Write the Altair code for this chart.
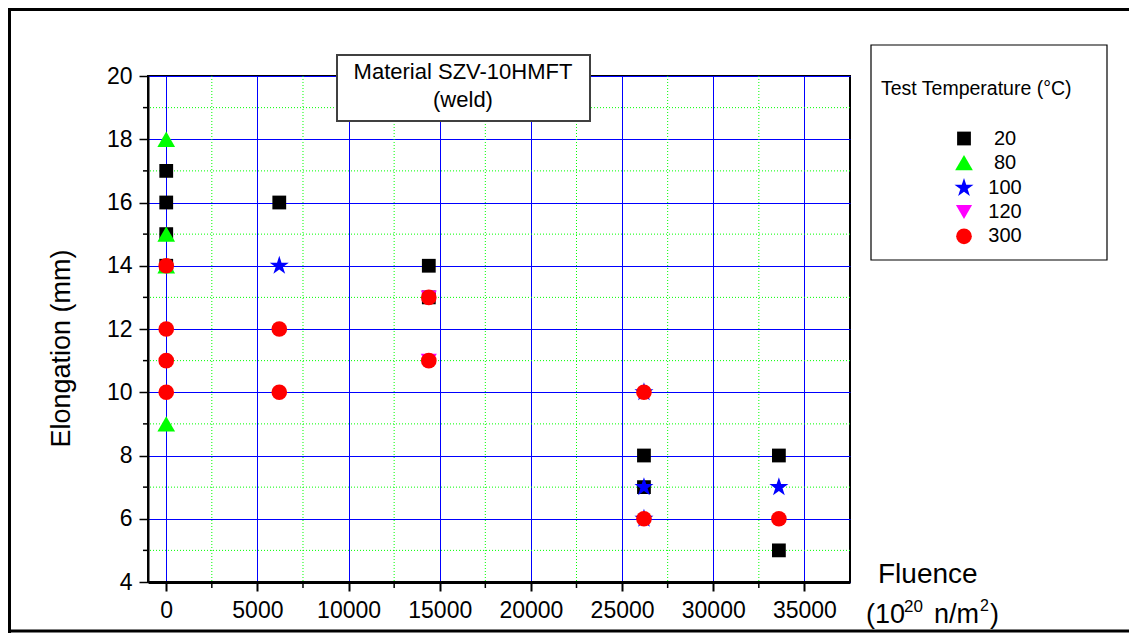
import altair as alt
import pandas as pd

# ---- data ----
temps = ["20", "80", "100", "120", "300"]
fluence_20 = [0, 0, 0, 0, 6200, 14400, 14400, 26200, 26200, 33600, 33600]
elong_20 = [17, 16, 15, 14, 16, 14, 13, 8, 7, 8, 5]
fluence_80 = [0, 0, 0, 0]
elong_80 = [18, 15, 14, 9]
fluence_100 = [6200, 26200, 26200, 26200, 33600]
elong_100 = [14, 10, 7, 6, 7]
fluence_120 = [14400, 14400]
elong_120 = [13, 11]
fluence_300 = [0, 0, 0, 0, 6200, 6200, 14400, 14400, 26200, 26200, 33600]
elong_300 = [14, 12, 11, 10, 12, 10, 13, 11, 10, 6, 6]

x_major = [0, 5000, 10000, 15000, 20000, 25000, 30000, 35000]
x_minor = [2500, 7500, 12500, 17500, 22500, 27500, 32500]
y_major = [4, 6, 8, 10, 12, 14, 16, 18, 20]
y_minor = [5, 7, 9, 11, 13, 15, 17, 19]

series = [
    ("20", fluence_20, elong_20),
    ("80", fluence_80, elong_80),
    ("100", fluence_100, elong_100),
    ("120", fluence_120, elong_120),
    ("300", fluence_300, elong_300),
]
rows = []
for t, fx, fy in series:
    for a, b in zip(fx, fy):
        rows.append({"fluence": a, "elongation": b, "temp": t})
df = pd.DataFrame(rows)
df_xminor = pd.DataFrame({"fluence": x_minor})
df_yminor = pd.DataFrame({"elongation": y_minor})
dummy = pd.DataFrame({"k": [0]})

FONT = "Liberation Sans"
STAR = ("M0,-1L0.2245,-0.309L0.951,-0.309L0.363,0.118L0.588,0.809L0,0.382"
        "L-0.588,0.809L-0.363,0.118L-0.951,-0.309L-0.2245,-0.309Z")

xs = alt.Scale(domain=[-1000, 37500], nice=False, zero=False)
ys = alt.Scale(domain=[4, 20], nice=False, zero=False)

xaxis = alt.Axis(values=x_major, format="d", title=None, grid=True,
                 gridColor="#0000ff", gridWidth=1, tickSize=9, tickWidth=2,
                 tickColor="black", domainColor="black", domainWidth=3,
                 labelFontSize=23, labelColor="black", labelPadding=8,
                 labelFlush=False, labelFont=FONT)
yaxis = alt.Axis(values=y_major, format="d", title="Elongation (mm)", grid=True,
                 gridColor="#0000ff", gridWidth=1, tickSize=9, tickWidth=1.5,
                 tickColor="black", domainColor="black", domainWidth=2,
                 labelFontSize=23, labelColor="black", labelPadding=7,
                 labelFont=FONT, titleFont=FONT, titleFontSize=27,
                 titleFontWeight="normal", titleColor="black",
                 titleX=-73, titleY=272)

X = alt.X("fluence:Q", scale=xs, axis=xaxis)
Y = alt.Y("elongation:Q", scale=ys, axis=yaxis)

legend = alt.Legend(
    title=["", "Test Temperature (°C)"],
    orient="none", legendX=723, legendY=-31, padding=10,
    titleFont=FONT, titleFontSize=19.5, titleFontWeight="normal",
    titleLineHeight=25, titlePadding=29, titleColor="black", titleLimit=400,
    labelFont=FONT, labelFontSize=20, labelColor="black",
    labelAlign="center", labelOffset=30, symbolOffset=72, rowPadding=4.2,
)

minor_x_grid = alt.Chart(df_xminor).mark_rule(
    color="#00ff00", strokeDash=[1, 2], strokeWidth=1).encode(x=X)
minor_y_grid = alt.Chart(df_yminor).mark_rule(
    color="#00ff00", strokeDash=[1, 2], strokeWidth=1).encode(y=Y)
minor_x_ticks = alt.Chart(df_xminor).mark_rule(
    color="black", strokeWidth=1.5).encode(x=X, y=alt.value(506), y2=alt.value(512))
minor_y_ticks = alt.Chart(df_yminor).mark_rule(
    color="black", strokeWidth=1.5).encode(y=Y, x=alt.value(-5), x2=alt.value(0))

points = alt.Chart(df).mark_point(filled=True, opacity=1, strokeWidth=0).encode(
    x=X, y=Y,
    color=alt.Color("temp:N", sort=temps,
                    scale=alt.Scale(domain=temps,
                                    range=["#000000", "#00ff00", "#0000ff", "#ff00ff", "#ff0000"]),
                    legend=legend),
    shape=alt.Shape("temp:N", sort=temps,
                    scale=alt.Scale(domain=temps,
                                    range=["square", "triangle-up", STAR, "triangle-down", "circle"]),
                    legend=legend),
    size=alt.Size("temp:N", sort=temps,
                  scale=alt.Scale(type="ordinal", domain=temps,
                                  range=[190, 313, 400, 260, 245]),
                  legend=legend),
)

# legend frame
legend_box = alt.Chart(dummy).mark_rect(fill="white", stroke="black", strokeWidth=1.2).encode(
    x=alt.value(723), x2=alt.value(959), y=alt.value(-31), y2=alt.value(184))

# annotation box
box = alt.Chart(dummy).mark_rect(fill="white", stroke="#404040", strokeWidth=2).encode(
    x=alt.value(189), x2=alt.value(442), y=alt.value(-21), y2=alt.value(45))
t1 = alt.Chart(dummy).mark_text(text="Material SZV-10HMFT", font=FONT, fontSize=22,
                                align="center", baseline="alphabetic", color="black").encode(
    x=alt.value(315), y=alt.value(3))
t2 = alt.Chart(dummy).mark_text(text="(weld)", font=FONT, fontSize=22,
                                align="center", baseline="alphabetic", color="black").encode(
    x=alt.value(315), y=alt.value(31))

# x axis title pieces
def txt(s, x, y, size):
    return alt.Chart(dummy).mark_text(text=s, font=FONT, fontSize=size, align="left",
                                      baseline="alphabetic", color="black").encode(
        x=alt.value(x), y=alt.value(y))

xt = [
    txt("Fluence", 730, 507, 28),
    txt("(10", 718, 547, 27),
    txt("20", 756, 536, 17),
    txt("n/m", 786, 547, 27),
    txt("2", 832, 535, 16),
    txt(")", 842, 547, 27),
]

# outer frame
frame_top = alt.Chart(dummy).mark_rule(color="black", strokeWidth=3).encode(
    x=alt.value(-138.5), x2=alt.value(981), y=alt.value(-66.5))
frame_left = alt.Chart(dummy).mark_rule(color="black", strokeWidth=3).encode(
    x=alt.value(-138.5), y=alt.value(-68), y2=alt.value(558))
frame_bottom = alt.Chart(dummy).mark_rule(color="black", strokeWidth=3).encode(
    x=alt.value(-138.5), x2=alt.value(981), y=alt.value(555))

chart = alt.layer(
    minor_x_grid, minor_y_grid, minor_x_ticks, minor_y_ticks, legend_box, points,
    box, t1, t2, *xt, frame_top, frame_left, frame_bottom,
).properties(
    width=702, height=506,
    autosize=alt.AutoSizeParams(type="none"),
    padding={"left": 140, "top": 68, "right": 279, "bottom": 52},
).configure(font=FONT).configure_view(stroke="black", strokeWidth=2)

chart.save("out.html", embed_options={"renderer": "svg", "actions": False})
